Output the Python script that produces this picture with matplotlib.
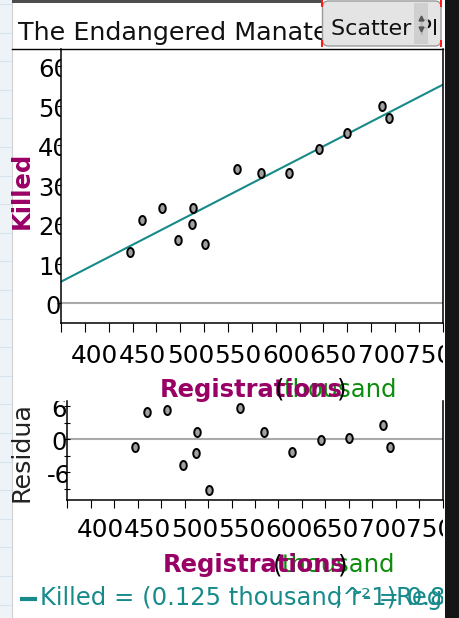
import numpy as np
import matplotlib
matplotlib.use("Agg")
import matplotlib.pyplot as plt
from matplotlib.path import Path
from matplotlib.patches import Rectangle, FancyBboxPatch
from matplotlib.lines import Line2D
from matplotlib.transforms import (Affine2D, Bbox, TransformedBbox,
                                   ScaledTranslation, blended_transform_factory)

# Florida boat registrations (thousands) and manatees killed by boats, 1977-1990
registrations = np.array([447, 460, 481, 498, 513, 512, 526, 559, 585, 614, 645, 675, 711, 719])
killed = np.array([13, 21, 24, 16, 24, 20, 15, 34, 33, 33, 39, 43, 50, 47])

x_labels = [400, 450, 500, 550, 600, 650, 700, 750]
killed_labels = [0, 10, 20, 30, 40, 50, 60]
residual_labels = [6, 0, -6]

title = "The Endangered Manatees"
x_name, x_unit = "Registrations", "thousand"
y_name = "Killed"
resid_name = "Residual"
plot_kind = "Scatter Plot"

PURPLE = "#990066"
GREEN = "#0b8c0b"
TEAL = "#178a8a"
GREY_LINE = "#a9a9a9"
FS = 17.5
TICK_FS = 17.9

plt.rcParams['font.family'] = ['DejaVu Sans']

W, H = 459, 618
fig = plt.figure(figsize=(W / 100, H / 100), dpi=100)
fig.patch.set_facecolor('white')

# pixel coordinates with the origin at the top-left corner
px = Affine2D().scale(1 / W, -1 / H).translate(0, 1) + fig.transFigure


def pbox(x0, y0, x1, y1):
    return TransformedBbox(Bbox.from_extents(x0, y0, x1, y1), px)


def clip_to(artist, box):
    artist.set_clip_on(True)
    artist.set_clip_path(None)
    artist.set_clip_box(box)
    return artist


def shift(dx, dy):
    # offset in pixels, positive dy goes down
    return ScaledTranslation(dx / 100, -dy / 100, fig.dpi_scale_trans)


# least-squares line and residuals
slope, intercept = np.polyfit(registrations, killed, 1)
residuals = killed - (slope * registrations + intercept)
r2 = np.corrcoef(registrations, killed)[0, 1] ** 2

# oval point marker
theta = np.linspace(0, 2 * np.pi, 64)
oval = Path(np.column_stack([0.72 * np.cos(theta), np.sin(theta)]), closed=True)
point_style = dict(ls='none', marker=oval, ms=6.5, mfc='#a0a0a0', mec='black', mew=1.4, zorder=3)

# ---------------- page decorations ----------------
fig.add_artist(Rectangle((0, 0), 12, H, transform=px, fc='#eef3f7', ec='none', zorder=0.5))
for gy in np.arange(4, H, 28.6):
    fig.add_artist(Line2D([0, 12], [gy, gy], transform=px, color='#d5e3ed', lw=0.8, zorder=0.6))
fig.add_artist(Line2D([12, 12], [0, H], transform=px, color='#d0d0d0', lw=0.8, zorder=0.7))
fig.add_artist(Rectangle((12, 0), 310, 3, transform=px, fc='#4d4d4d', ec='none', zorder=1))
fig.add_artist(Line2D([12, 443], [49, 49], transform=px, color='black', lw=1.0, zorder=2))

fig.text(18, 40, title, transform=px, fontsize=18.3, va='baseline', color='#111111', zorder=3)

# plot-type button
fig.add_artist(FancyBboxPatch((322.5, 1), 118.5, 45,
                              boxstyle='round,pad=0,rounding_size=6', transform=px,
                              fc='#e4e4e4', ec='#9a9a9a', lw=1.0, zorder=6))
t = fig.text(331, 35, plot_kind, transform=px, fontsize=16, va='baseline', color='#111111', zorder=7)
clip_to(t, pbox(322, 0, 439, 47))
fig.add_artist(Rectangle((414, 3), 14, 41, transform=px, fc='#cdcdcd', ec='none', alpha=0.9, zorder=8))
fig.add_artist(Line2D([421], [18], transform=px, ls='none', marker='^', ms=3.5,
                      color='#555555', zorder=9))
fig.add_artist(Line2D([421], [29], transform=px, ls='none', marker='v', ms=3.5,
                      color='#555555', zorder=9))
for (rx, ry) in [(321, 0), (321, 40), (440, 0), (440, 40)]:
    fig.add_artist(Rectangle((rx, ry), 2, 7, transform=px, fc='#ff1a1a', ec='none', zorder=10))

# dark window edge on the right
fig.add_artist(Rectangle((445, 0), 14, H, transform=px, fc='#151515', ec='none', zorder=11))

# ---------------- scatter plot with least-squares line ----------------
ax1 = fig.add_axes([61 / W, 1 - 322.7 / H, (442.7 - 61) / W, (322.7 - 49) / H])
ax1.set_xlim(375, 775)
ax1.set_ylim(-5, 64.4)
ax1.axhline(0, color=GREY_LINE, lw=1.5, zorder=1)
xx = np.array(ax1.get_xlim())
ax1.plot(xx, slope * xx + intercept, color=TEAL, lw=1.5, zorder=2)
ax1.plot(registrations, killed, **point_style)

ax1.spines['top'].set_visible(False)
for s in ['left', 'bottom', 'right']:
    ax1.spines[s].set_linewidth(1.1)
ax1.set_xticks(np.arange(375, 776, 25))
ax1.set_yticks(killed_labels)
ax1.tick_params(axis='x', direction='out', length=6.5, width=0.8, labelbottom=False)
ax1.tick_params(axis='y', direction='out', length=3, width=0.8, labelleft=False)

xt1 = blended_transform_factory(ax1.transData, ax1.transAxes)
for v in x_labels:
    t = ax1.text(v, 0, str(v), transform=xt1 + shift(10, 40), ha='center', va='baseline', fontsize=TICK_FS)
    clip_to(t, pbox(0, 0, 443, H))
yt1 = blended_transform_factory(ax1.transAxes, ax1.transData)
for v in killed_labels:
    t = ax1.text(0, v, str(v), transform=yt1 + shift(-7.5, 11), ha='center', va='baseline', fontsize=FS)
    clip_to(t, pbox(0, 0, 61, H))

fig.text(22, 190, y_name, transform=px, rotation=90, ha='center', va='center',
         fontsize=FS, fontweight='bold', color=PURPLE)

# ---------------- residual plot ----------------
ax2 = fig.add_axes([67.3 / W, 1 - 499.5 / H, (442.7 - 67.3) / W, (499.5 - 401) / H])
ax2.set_xlim(375, 775)
ax2.set_ylim(-11, 7)
ax2.patch.set_alpha(0)
ax2.axhline(0, color=GREY_LINE, lw=1.5, zorder=1)
ax2.plot(registrations, residuals, **point_style)

ax2.spines['top'].set_visible(False)
for s in ['left', 'bottom', 'right']:
    ax2.spines[s].set_linewidth(1.1)
ax2.set_xticks(np.arange(375, 776, 25))
ax2.set_yticks(residual_labels)
ax2.set_yticks([3, -3, -9], minor=True)
ax2.tick_params(axis='x', direction='out', length=6, width=0.8, labelbottom=False)
ax2.tick_params(axis='y', which='both', direction='inout', length=5, width=0.8, labelleft=False)

xt2 = blended_transform_factory(ax2.transData, ax2.transAxes)
for v in x_labels:
    t = ax2.text(v, 0, str(v), transform=xt2 + shift(10, 37.5), ha='center', va='baseline', fontsize=TICK_FS)
    clip_to(t, pbox(0, 0, 443, H))
yt2 = blended_transform_factory(ax2.transAxes, ax2.transData)
for v in residual_labels:
    t = ax2.text(0, v, str(v), transform=yt2 + shift(-8, 11), ha='center', va='baseline', fontsize=FS)
    clip_to(t, pbox(0, 401, 67.3, H))

t = fig.text(22, 502, resid_name, transform=px, rotation=90, ha='center', va='bottom',
             fontsize=18.3, color='#222222')
clip_to(t, pbox(0, 405, 60, H))


# ---------------- axis names with units ----------------
def axis_name(x0, baseline, paren_l, unit_x, paren_r):
    fig.text(unit_x, baseline, x_unit, transform=px, fontsize=FS, va='baseline', color=GREEN, zorder=3)
    fig.text(x0, baseline, x_name, transform=px, fontsize=FS, va='baseline',
             fontweight='bold', color=PURPLE, zorder=4)
    fig.text(paren_l, baseline, "(", transform=px, fontsize=FS, va='baseline', color='black', zorder=5)
    fig.text(paren_r, baseline, ")", transform=px, fontsize=FS, va='baseline', color='black', zorder=5)


axis_name(160, 397, 275, 283, 337)
axis_name(163, 572, 273, 281, 338)

# ---------------- fitted-line equation ----------------
fig.add_artist(Line2D([22, 35], [599, 599], transform=px, color=TEAL, lw=3, zorder=3))
formula = f"{y_name} = ({slope:.3f} {x_unit}^-1){x_name} − {abs(intercept):.1f}"
t = fig.text(40, 605, formula, transform=px, fontsize=FS, va='baseline', color=TEAL, zorder=3)
clip_to(t, pbox(0, 0, 443, H))
t = fig.text(335, 605, f"; r² = {r2:.2f}", transform=px, fontsize=FS, va='baseline', color=TEAL, zorder=3)
clip_to(t, pbox(0, 0, 443, H))

fig.savefig("out.png", dpi=100, facecolor=fig.get_facecolor())
